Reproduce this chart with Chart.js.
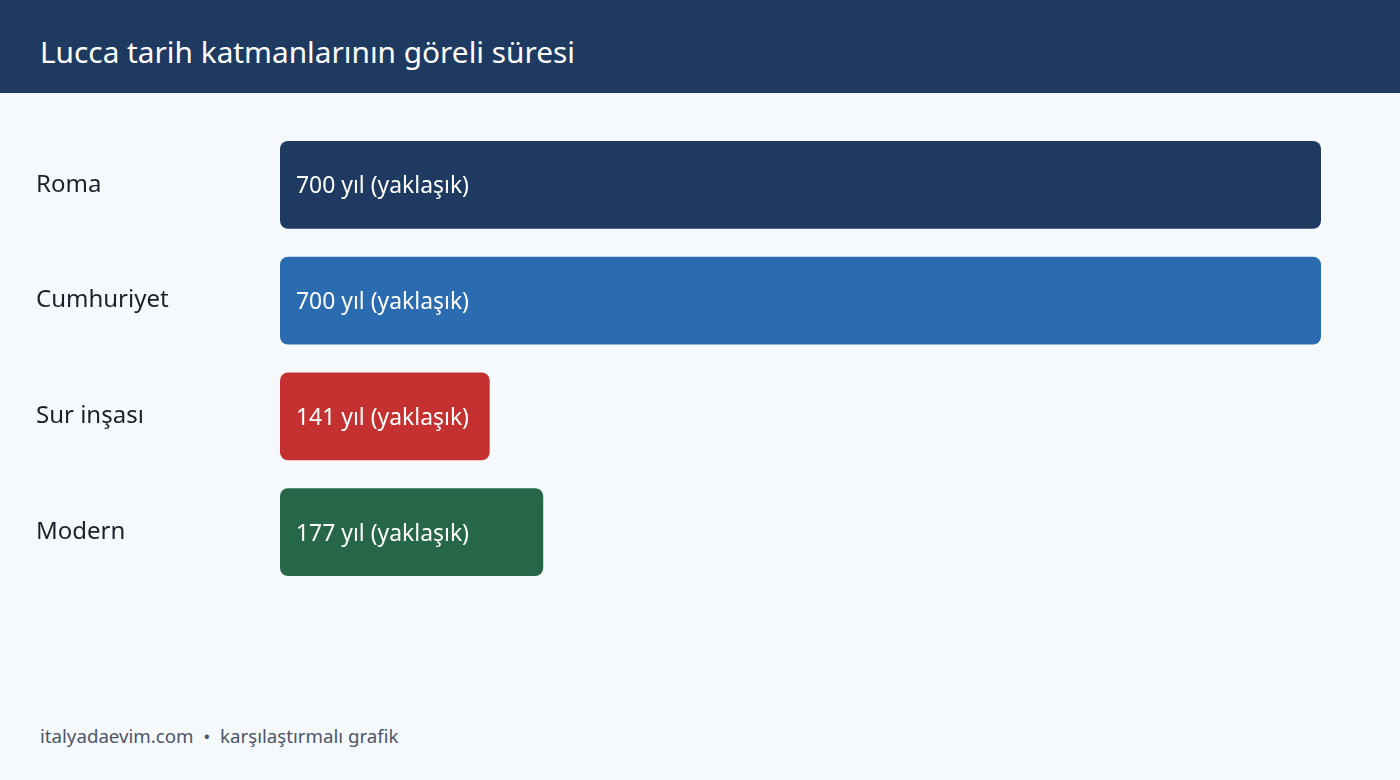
<!DOCTYPE html>
<html lang="tr">
<head>
<meta charset="UTF-8">
<title>Lucca tarih katmanları</title>
<script src="https://cdn.jsdelivr.net/npm/chart.js"></script>
<style>
  html, body { margin: 0; padding: 0; }
  body { width: 1400px; height: 780px; background: #f5f9fc; font-family: "Noto Sans", sans-serif; position: relative; overflow: hidden; }
  header { background: #1f3a60; color: #fff; height: 93px; box-sizing: border-box; padding: 5px 0 0 40px; font-size: 29.8px; line-height: 93px; }
  .wrap { position: absolute; left: 0; top: 93px; width: 1400px; height: 600px; }
  footer { position: absolute; left: 40px; top: 723px; font-size: 18.7px; color: #4a5568; }
</style>
</head>
<body>
<header>Lucca tarih katmanlarının göreli süresi</header>
<div class="wrap"><canvas id="chart"></canvas></div>
<footer>italyadaevim.com &nbsp;•&nbsp; karşılaştırmalı grafik</footer>
<script>
const categories = ['Roma', 'Cumhuriyet', 'Sur inşası', 'Modern'];
const years = [700, 700, 141, 177];
const valueLabels = ['700 yıl (yaklaşık)', '700 yıl (yaklaşık)', '141 yıl (yaklaşık)', '177 yıl (yaklaşık)'];
const barColors = ['#1f3a60', '#2b6cb0', '#c53030', '#276749'];

const insideLabels = {
  id: 'insideLabels',
  afterDatasetsDraw(chart) {
    const ctx = chart.ctx;
    const meta = chart.getDatasetMeta(0);
    ctx.save();
    ctx.fillStyle = '#ffffff';
    ctx.font = '22.9px "Noto Sans", sans-serif';
    ctx.textBaseline = 'middle';
    ctx.textAlign = 'left';
    meta.data.forEach((bar, i) => {
      ctx.fillText(valueLabels[i], bar.base + 16, bar.y + 2);
    });
    ctx.restore();
  }
};

new Chart(document.getElementById('chart'), {
  type: 'bar',
  data: {
    labels: categories,
    datasets: [{
      data: years,
      backgroundColor: barColors,
      borderRadius: 8,
      borderSkipped: false,
      barPercentage: 0.76,
      categoryPercentage: 1
    }]
  },
  options: {
    indexAxis: 'y',
    responsive: true,
    maintainAspectRatio: false,
    animation: false,
    layout: { padding: { left: 36, right: 79, top: 34, bottom: 103 } },
    plugins: { legend: { display: false }, tooltip: { enabled: false } },
    scales: {
      x: { display: false, min: 0, max: 700 },
      y: {
        grid: { display: false },
        border: { display: false },
        afterFit(scale) { scale.width = 244; },
        ticks: {
          crossAlign: 'far',
          padding: 0,
          color: '#1a202c',
          font: { family: '"Noto Sans", sans-serif', size: 24 }
        }
      }
    }
  },
  plugins: [insideLabels]
});
</script>
</body>
</html>
